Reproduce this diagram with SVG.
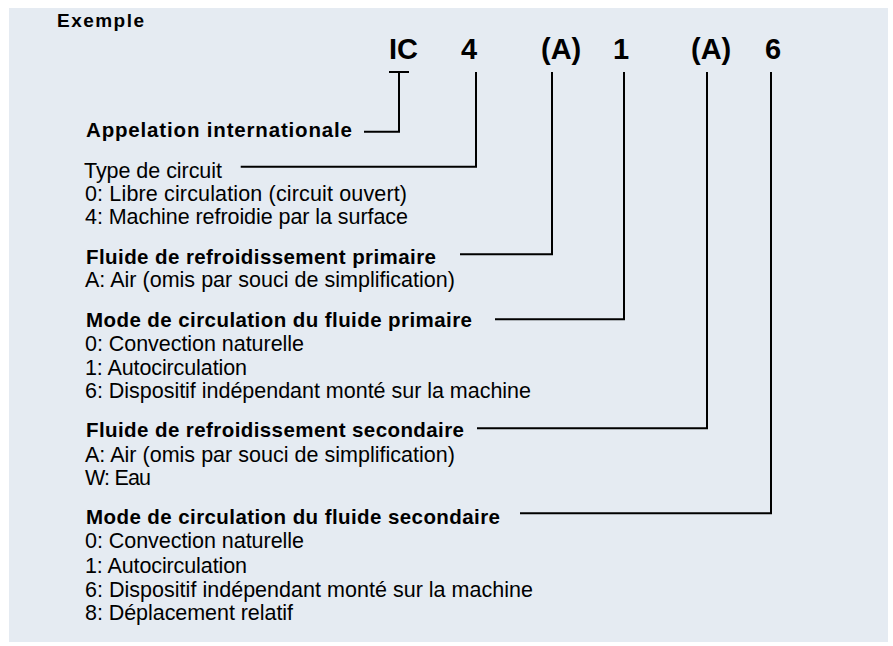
<svg xmlns="http://www.w3.org/2000/svg" width="893" height="646" viewBox="0 0 893 646">
<style>
text{font-family:"Liberation Sans",Arial,Helvetica,sans-serif;fill:#000}
.code{font-size:29px;font-weight:bold}
.h{font-size:20.5px;font-weight:bold}
.e{font-size:19px;font-weight:bold}
.t{font-size:21.5px}
.c{fill:none;stroke:#000;stroke-width:2}
</style>
<rect x="9" y="8" width="879" height="634" fill="#e5ebf2"/>
<text class="e" x="57" y="27" textLength="87" lengthAdjust="spacing">Exemple</text>
<g id="code">
<text class="code" x="389" y="59">IC</text>
<text class="code" x="461" y="59">4</text>
<text class="code" x="541" y="59">(A)</text>
<text class="code" x="613" y="59">1</text>
<text class="code" x="691" y="59">(A)</text>
<text class="code" x="765" y="59">6</text>
</g>
<g id="connectors">
<path class="c" d="M389,72 H409 M399,72 V131.7 H364"/>
<path class="c" d="M476,72 V166.7 H240.7"/>
<path class="c" d="M552,72 V254.3 H460"/>
<path class="c" d="M624,72 V319.3 H495"/>
<path class="c" d="M707,72 V428.3 H477"/>
<path class="c" d="M771,72 V513.3 H520"/>
</g>
<g id="appelation">
<text class="h" x="86" y="137.3" textLength="266" lengthAdjust="spacing">Appelation internationale</text>
</g>
<g id="type-circuit">
<text class="t" x="84" y="177.7" textLength="138" lengthAdjust="spacing">Type de circuit</text>
<text class="t" x="85" y="200.7" textLength="322" lengthAdjust="spacing">0: Libre circulation (circuit ouvert)</text>
<text class="t" x="85" y="224.3" textLength="323" lengthAdjust="spacing">4: Machine refroidie par la surface</text>
</g>
<g id="fluide-primaire">
<text class="h" x="86" y="264" textLength="350" lengthAdjust="spacing">Fluide de refroidissement primaire</text>
<text class="t" x="85" y="286.7" textLength="370" lengthAdjust="spacing">A: Air (omis par souci de simplification)</text>
</g>
<g id="mode-primaire">
<text class="h" x="86" y="326.7" textLength="386" lengthAdjust="spacing">Mode de circulation du fluide primaire</text>
<text class="t" x="85" y="350.7" textLength="219" lengthAdjust="spacing">0: Convection naturelle</text>
<text class="t" x="85" y="375" textLength="162" lengthAdjust="spacing">1: Autocirculation</text>
<text class="t" x="85" y="398.3" textLength="446" lengthAdjust="spacing">6: Dispositif indépendant monté sur la machine</text>
</g>
<g id="fluide-secondaire">
<text class="h" x="86" y="437.3" textLength="378" lengthAdjust="spacing">Fluide de refroidissement secondaire</text>
<text class="t" x="85" y="461.7" textLength="370" lengthAdjust="spacing">A: Air (omis par souci de simplification)</text>
<text class="t" x="85" y="485" textLength="66" lengthAdjust="spacing">W: Eau</text>
</g>
<g id="mode-secondaire">
<text class="h" x="86" y="524" textLength="414" lengthAdjust="spacing">Mode de circulation du fluide secondaire</text>
<text class="t" x="85" y="548.3" textLength="219" lengthAdjust="spacing">0: Convection naturelle</text>
<text class="t" x="85" y="572.7" textLength="162" lengthAdjust="spacing">1: Autocirculation</text>
<text class="t" x="85" y="596.7" textLength="448" lengthAdjust="spacing">6: Dispositif indépendant monté sur la machine</text>
<text class="t" x="85" y="620" textLength="208" lengthAdjust="spacing">8: Déplacement relatif</text>
</g>
</svg>
